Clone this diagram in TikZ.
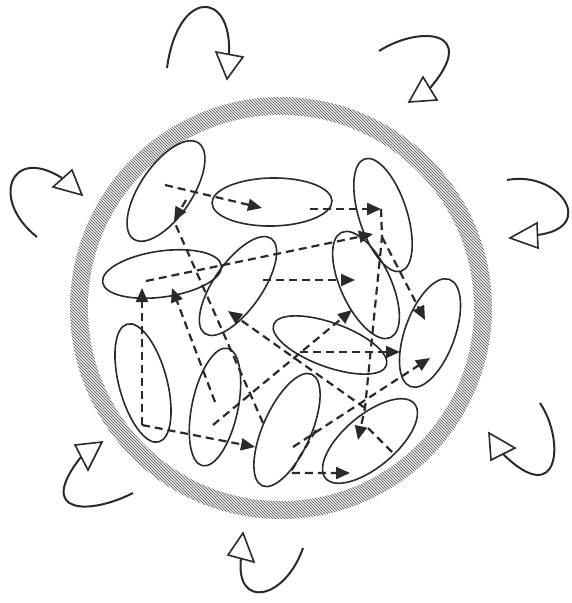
\documentclass[tikz,border=0pt]{standalone}
\usepackage{tikz}
\usetikzlibrary{arrows.meta,shapes.geometric}

\definecolor{ink}{HTML}{2A2A2A}
\definecolor{hatch}{HTML}{6E6E6E}

\begin{document}
\begin{tikzpicture}[x=1pt,y=-1pt,
    sub/.style={ellipse,draw=ink,line width=1.6pt,inner sep=0pt},
    link/.style={draw=ink,line width=2.2pt,dash pattern=on 8pt off 5pt,-{Triangle[length=14pt,width=12pt]}},
    plain/.style={draw=ink,line width=2.2pt,dash pattern=on 8pt off 5pt},
    swirl/.style={draw=ink,line width=2pt},
    openhead/.style={draw=ink,line width=1.6pt,fill=white,line join=miter}]
    \useasboundingbox (0,0) rectangle (572,603);

    % Boundary ring
    \coordinate (c) at (281,308);
    \begin{scope}
        \clip (c) circle (211);
        \foreach \k in {-300,-297,...,300}
            \draw[hatch,line width=0.9pt] ([shift={(\k-230,-230)}]c) -- ++(460,460);
    \end{scope}
    \fill[white] (c) circle (193);

    % Subsystems
    \node[sub,minimum width=116pt,minimum height=52pt,rotate=56]  (s1)  at (166,191) {};
    \node[sub,minimum width=120pt,minimum height=48pt,rotate=1]   (s2)  at (272,202) {};
    \node[sub,minimum width=118pt,minimum height=48pt,rotate=-72] (s3)  at (383,215) {};
    \node[sub,minimum width=120pt,minimum height=46pt,rotate=8]   (s4)  at (162,274) {};
    \node[sub,minimum width=116pt,minimum height=48pt,rotate=55]  (s5)  at (238,286) {};
    \node[sub,minimum width=116pt,minimum height=50pt,rotate=-65] (s6)  at (366,285) {};
    \node[sub,minimum width=120pt,minimum height=44pt,rotate=-20] (s7)  at (330,345) {};
    \node[sub,minimum width=114pt,minimum height=50pt,rotate=70]  (s8)  at (430,333) {};
    \node[sub,minimum width=122pt,minimum height=48pt,rotate=-75] (s9)  at (143,383) {};
    \node[sub,minimum width=120pt,minimum height=46pt,rotate=78]  (s10) at (215,407) {};
    \node[sub,minimum width=122pt,minimum height=48pt,rotate=66]  (s11) at (287,430) {};
    \node[sub,minimum width=116pt,minimum height=52pt,rotate=40]  (s12) at (370,441) {};

    % Interaction points
    \coordinate (s1a) at (165,185);
    \coordinate (s1b) at (174,221);
    \coordinate (s1c) at (186,200);
    \coordinate (s2a) at (262,208);
    \coordinate (s2b) at (310,209);
    \coordinate (s3a) at (381,209);
    \coordinate (s3b) at (382,237);
    \coordinate (s3c) at (373,234);
    \coordinate (s4a) at (146,281);
    \coordinate (s4b) at (142,288);
    \coordinate (s4c) at (172,288);
    \coordinate (s5a) at (263,280);
    \coordinate (s5b) at (228,311);
    \coordinate (s6a) at (355,280);
    \coordinate (s6b) at (352,310);
    \coordinate (s7a) at (300,352);
    \coordinate (s8a) at (425,320);
    \coordinate (s8b) at (400,352);
    \coordinate (s8c) at (430,358);
    \coordinate (s9a) at (142,425);
    \coordinate (s10a) at (215,402);
    \coordinate (s10b) at (213,425);
    \coordinate (s11a) at (255,447);
    \coordinate (s11b) at (263,423);
    \coordinate (s11c) at (293,447);
    \coordinate (s11d) at (316,430);
    \coordinate (s11e) at (290,473);
    \coordinate (s12a) at (365,408);
    \coordinate (s12b) at (358,440);
    \coordinate (s12c) at (350,473);
    \coordinate (s12d) at (368,428);
    \coordinate (s12e) at (392,452);

    % Interactions
    \draw[link] (s1a) -- (s2a);
    \draw[link] (s2b) -- (s3a);
    \draw[link] (s4a) -- (s3c);
    \draw[link] (s9a) -- (s4b);
    \draw[link] (s9a) -- (s11a);
    \draw[link] (s10a) -- (s4c);
    \draw[link] (s5a) -- (s6a);
    \draw[link] (s12a) -- (s5b);
    \draw[link] (s10b) -- (s6b);
    \draw[link] (s7a) -- (s8b);
    \draw[plain] (s11b) -- (s1b);
    \draw[link] (s1c) -- (s1b);
    \draw[link] (s3a) -- (s3b) -- (s12a) -- (s12b);
    \draw[link] (s3b) -- (s8a);
    \draw[link] (s11c) -- (s8c);
    \draw[link] (s11d) -- (s11e) -- (s12c);
    \draw[plain] (s12d) -- (s12e);

    % Environment
    \draw[swirl] (167,68) .. controls (178,-12) and (232,-10) .. (229,54);
    \draw[openhead] (216,52) -- (227,79) -- (243,57) -- cycle;
    \draw[swirl] (379,51) .. controls (420,25) and (480,30) .. (430,88);
    \draw[openhead] (423,77) -- (409,102) -- (437,100) -- cycle;
    \draw[swirl] (37,237) .. controls (-10,200) and (10,145) .. (62,178);
    \draw[openhead] (53,187) -- (82,195) -- (72,170) -- cycle;
    \draw[swirl] (507,180) .. controls (560,170) and (598,228) .. (537,235);
    \draw[openhead] (537,223) -- (510,238) -- (538,248) -- cycle;
    \draw[swirl] (540,403) .. controls (565,440) and (560,510) .. (503,454);
    \draw[openhead] (515,448) -- (489,433) -- (491,460) -- cycle;
    \draw[swirl] (303,548) .. controls (285,600) and (235,610) .. (241,558);
    \draw[openhead] (228,555) -- (243,533) -- (254,562) -- cycle;
    \draw[swirl] (133,493) .. controls (90,515) and (35,515) .. (81,457);
    \draw[openhead] (75,445) -- (102,442) -- (88,470) -- cycle;
\end{tikzpicture}
\end{document}
